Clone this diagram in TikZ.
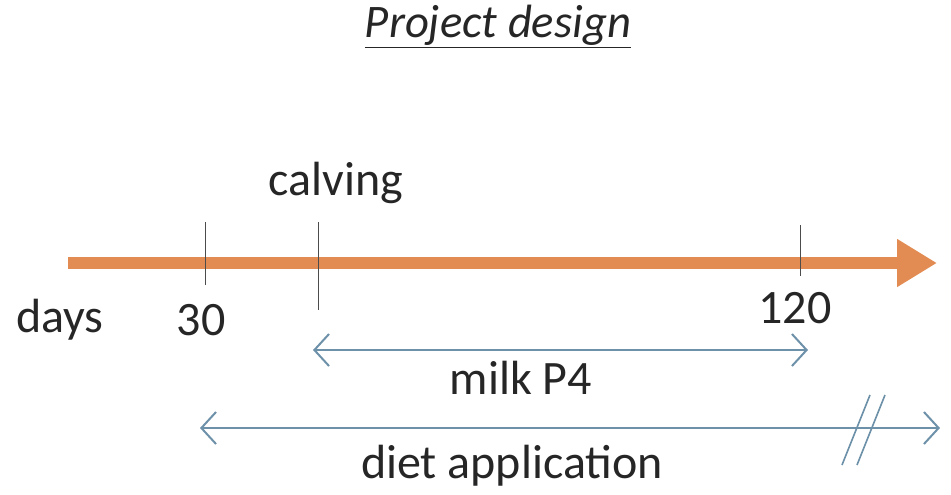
\documentclass[tikz,border=0pt]{standalone}
\usepackage{fontspec}
\setmainfont{Carlito}
\usetikzlibrary{arrows.meta,positioning}
\definecolor{timeorange}{RGB}{226,140,84}
\definecolor{spanblue}{RGB}{110,145,170}

\begin{document}
\begin{tikzpicture}[x=0.75pt,y=-0.75pt,
    tick line/.style={draw=black!70,line width=0.7pt},
    span arrow/.style={draw=spanblue,line width=1.5pt,{Straight Barb[length=11pt,width=24pt]}-{Straight Barb[length=11pt,width=24pt]}},
    main text/.style={font=\fontsize{36}{40}\selectfont,text=black!85,inner sep=0pt}]
    \useasboundingbox (0,0) rectangle (951,494);

    \node[main text,font=\fontsize{35}{40}\selectfont\itshape] (title) at (498,27) {\underline{Project design}};

    % time line
    \coordinate (start) at (68,263);
    \coordinate (end) at (937,263);
    \draw[line width=9pt,timeorange,-{Triangle[length=30pt,width=34pt]}] (start) -- (end);

    \coordinate (t30 top) at (205,222);
    \coordinate (t30 bot) at (205,285);
    \coordinate (calv top) at (318,222);
    \coordinate (calv bot) at (318,310);
    \coordinate (t120 top) at (800,225);
    \coordinate (t120 bot) at (800,276);
    \draw[tick line] (t30 top) -- (t30 bot);
    \draw[tick line] (calv top) -- (calv bot);
    \draw[tick line] (t120 top) -- (t120 bot);

    \node[main text] (days) at (60,320) {days};
    \node[main text] (d30) at (201,320) {30};
    \node[main text] (calving) at (336,183) {calving};
    \node[main text] (d120) at (795,308) {120};

    % periods
    \coordinate (milk a) at (313,350);
    \coordinate (milk b) at (808,350);
    \draw[span arrow] (milk a) -- (milk b);
    \node[main text] (milk) at (521,378) {milk P4};

    \coordinate (diet a) at (200,428);
    \coordinate (diet b) at (940,428);
    \draw[span arrow] (diet a) -- (diet b);
    \node[main text] (diet) at (512,466) {diet application};

    \coordinate (cut1 a) at (842,465);
    \coordinate (cut1 b) at (870,395);
    \coordinate (cut2 a) at (857,465);
    \coordinate (cut2 b) at (885,395);
    \draw[draw=spanblue,line width=1.2pt] (cut1 a) -- (cut1 b);
    \draw[draw=spanblue,line width=1.2pt] (cut2 a) -- (cut2 b);
\end{tikzpicture}
\end{document}
